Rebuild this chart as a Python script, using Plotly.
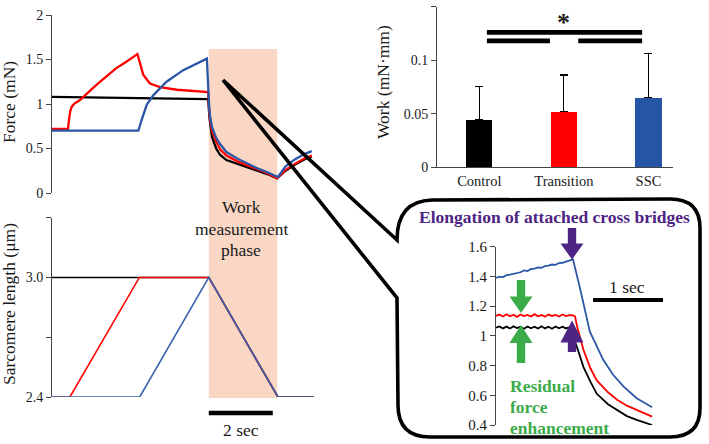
import plotly.graph_objects as go

W, H = 709, 444
FONT = "Liberation Serif, Times New Roman, serif"
INK = "#1a1a1a"
RED = "#ff0000"
BLUE = "#2b57a7"
BLACK = "#000000"
PURPLE = "#4e2484"
GREEN = "#3cab4a"
PEACH = "#f9d7c4"

# ---------------- Panel A: force traces (time in s, force in mN) ----------------
force_time_black = [0, 1, 2, 3, 4, 4.88, 4.92, 5.0, 5.13, 5.25, 5.45, 5.77, 6.1, 6.4, 6.75, 7.03, 7.3, 7.6, 7.9, 8.12]
force_black = [1.08, 1.075, 1.07, 1.065, 1.06, 1.055, 0.85, 0.63, 0.50, 0.43, 0.37, 0.33, 0.29, 0.26, 0.21, 0.165, 0.25, 0.32, 0.38, 0.41]

force_time_red = [0, 0.5, 0.53, 0.57, 0.62, 0.7, 0.875, 1.0, 1.25, 1.5, 1.75, 2.0, 2.3, 2.5, 2.67, 2.75, 2.85, 3.06, 3.375,
                  3.9, 4.5, 4.88, 4.92, 5.0, 5.13, 5.25, 5.45, 5.77, 6.1, 6.4, 6.75, 7.03, 7.3, 7.6, 7.9, 8.12]
force_red = [0.72, 0.72, 0.82, 0.92, 0.97, 1.005, 1.045, 1.09, 1.17, 1.25, 1.33, 1.40, 1.47, 1.52, 1.56, 1.46, 1.33, 1.23,
             1.19, 1.16, 1.145, 1.135, 0.88, 0.70, 0.58, 0.49, 0.42, 0.36, 0.31, 0.27, 0.22, 0.165, 0.26, 0.33, 0.39, 0.42]

force_time_blue = [0, 1, 2, 2.70, 2.8, 2.96, 3.17, 3.58, 4.1, 4.5, 4.84, 4.9, 4.93, 5.0, 5.13, 5.25, 5.45, 5.77, 6.1, 6.4,
                   6.75, 7.06, 7.3, 7.6, 7.9, 8.12]
force_blue = [0.70, 0.70, 0.70, 0.70, 0.82, 0.99, 1.10, 1.25, 1.38, 1.45, 1.51, 1.05, 0.88, 0.74, 0.62, 0.55, 0.46, 0.39,
              0.33, 0.28, 0.23, 0.18, 0.30, 0.38, 0.44, 0.47]

work_phase = [4.9, 7.04]  # s
scale_bar_main = [4.9, 6.9]  # 2 sec

# ---------------- Panel B: sarcomere length ----------------
len_time_black = [0, 4.9, 7.06, 8.18]
len_black = [3.0, 3.0, 2.4, 2.4]
len_time_red = [0, 0.56, 2.73, 4.9, 7.06, 8.18]
len_red = [2.4, 2.4, 3.0, 3.0, 2.4, 2.4]
len_time_blue = [0, 2.74, 4.9, 7.06, 8.18]
len_blue = [2.4, 2.4, 3.0, 2.4, 2.4]
len_tickvals = [2.4, 2.7, 3.0, 3.3]
len_ticktext = ["2.4", "", "3.0", ""]

# ---------------- Panel C: work bars ----------------
categories = ["Control", "Transition", "SSC"]
work_mean = [0.0442, 0.0518, 0.0650]
work_sd = [0.0311, 0.0344, 0.0415]
bar_colors = [BLACK, RED, "#2655a5"]
sig_long = [0.09, 1.925, 0.126]      # x0, x1, y
sig_short_a = [0.09, 0.835, 0.118]
sig_short_b = [1.17, 1.925, 0.118]
star_pos = [1.0, 0.1355]

# ---------------- Panel D: inset ----------------
ins_flat_t = [0.00, 0.05, 0.10, 0.15, 0.20, 0.25, 0.30, 0.35, 0.40, 0.45, 0.50, 0.55, 0.60, 0.65, 0.70, 0.75,
              0.80, 0.85, 0.90, 0.95, 1.00, 1.05]
ins_time_black = ins_flat_t + [1.08, 1.12, 1.16, 1.25, 1.35, 1.44, 1.6, 1.73, 1.87, 2.01, 2.12, 2.23]
ins_black = [1.055, 1.063, 1.050, 1.062, 1.049, 1.064, 1.052, 1.061, 1.048, 1.063, 1.051, 1.062, 1.049, 1.064, 1.050,
             1.061, 1.048, 1.063, 1.051, 1.062, 1.050, 1.058,
             1.04, 0.97, 0.92, 0.79, 0.69, 0.61, 0.54, 0.50, 0.46, 0.434, 0.415, 0.40]
ins_time_red = ins_flat_t + [1.10, 1.13, 1.16, 1.25, 1.35, 1.44, 1.6, 1.73, 1.87, 2.01, 2.12, 2.23]
ins_red = [1.135, 1.143, 1.130, 1.145, 1.132, 1.142, 1.128, 1.144, 1.133, 1.141, 1.130, 1.146, 1.132, 1.140, 1.129,
           1.143, 1.134, 1.141, 1.130, 1.144, 1.133, 1.140,
           1.138, 1.13, 1.06, 0.905, 0.78, 0.70, 0.62, 0.57, 0.53, 0.50, 0.475, 0.456]
ins_time_blue = ins_flat_t + [1.10, 1.20, 1.34, 1.53, 1.67, 1.82, 2.01, 2.12, 2.23]
ins_blue = [1.390, 1.398, 1.395, 1.408, 1.412, 1.418, 1.425, 1.428, 1.440, 1.436, 1.450, 1.452, 1.460, 1.458, 1.470,
            1.472, 1.480, 1.478, 1.490, 1.492, 1.500, 1.505,
            1.515, 1.32, 1.03, 0.84, 0.74, 0.66, 0.58, 0.55, 0.52]
ins_scale_bar = [1.386, 2.386]  # 1 sec


def px(x, y):
    return x / W, 1 - y / H


def dom_x(a, b):
    return [a / W, b / W]


def dom_y(top, bottom):
    return [1 - bottom / H, 1 - top / H]


fig = go.Figure()

# Panel A traces
for t, v, c in [(force_time_black, force_black, BLACK), (force_time_red, force_red, RED),
                (force_time_blue, force_blue, BLUE)]:
    fig.add_trace(go.Scatter(x=t, y=v, mode="lines", line=dict(color=c, width=2.3), xaxis="x", yaxis="y",
                             showlegend=False, hoverinfo="skip"))
# Panel B traces
for t, v, c in [(len_time_black, len_black, BLACK), (len_time_red, len_red, RED),
                (len_time_blue, len_blue, "#3a63ae")]:
    fig.add_trace(go.Scatter(x=t, y=v, mode="lines", line=dict(color=c, width=1.6), xaxis="x2", yaxis="y2",
                             showlegend=False, hoverinfo="skip"))
# Panel C bars
fig.add_trace(go.Bar(x=[0, 1, 2], y=work_mean, marker=dict(color=bar_colors, line=dict(width=0)), width=0.31,
                     error_y=dict(type="data", array=work_sd, arrayminus=[0, 0, 0], symmetric=False,
                                  color=BLACK, thickness=1.2, width=4),
                     xaxis="x3", yaxis="y3", showlegend=False, hoverinfo="skip"))
# Panel D traces
for t, v, c in [(ins_time_black, ins_black, BLACK), (ins_time_red, ins_red, RED), (ins_time_blue, ins_blue, BLUE)]:
    fig.add_trace(go.Scatter(x=t, y=v, mode="lines", line=dict(color=c, width=1.8), xaxis="x4", yaxis="y4",
                             showlegend=False, hoverinfo="skip"))

tfont = dict(family=FONT, size=14, color=INK)
axis_common = dict(showgrid=False, zeroline=False, showline=True, linecolor="#444", linewidth=1,
                   ticks="outside", ticklen=5, tickcolor="#444", tickfont=tfont, automargin=False)

shapes = []
# work measurement phase shading
shapes.append(dict(type="rect", xref="x", yref="paper", x0=work_phase[0], x1=work_phase[1],
                   y0=1 - 398 / H, y1=1 - 49 / H, fillcolor=PEACH, line=dict(width=0), layer="below"))
# 2 sec scale bar
shapes.append(dict(type="line", xref="x", yref="paper", x0=scale_bar_main[0], x1=scale_bar_main[1],
                   y0=1 - 413 / H, y1=1 - 413 / H, line=dict(color=BLACK, width=4.5)))
# significance bars
for s in [sig_long, sig_short_a, sig_short_b]:
    shapes.append(dict(type="line", xref="x3", yref="y3", x0=s[0], x1=s[1], y0=s[2], y1=s[2],
                       line=dict(color=BLACK, width=4.8)))
# inset 1 sec scale bar
shapes.append(dict(type="line", xref="x4", yref="paper", x0=ins_scale_bar[0], x1=ins_scale_bar[1],
                   y0=1 - 300 / H, y1=1 - 300 / H, line=dict(color=BLACK, width=4)))


def path_from(cmds):
    out = []
    for c in cmds:
        op = c[0]
        if op == "Z":
            out.append("Z")
            continue
        coords = []
        for (x, y) in c[1:]:
            a, b = px(x, y)
            coords.append(f"{a:.5f},{b:.5f}")
        out.append(op + " " + " ".join(coords))
    return " ".join(out)


bubble = [("M", (223, 80)), ("L", (397, 240)), ("Q", (397, 201), (432, 200)), ("L", (670, 199)),
          ("Q", (700, 199), (700, 228)), ("L", (700, 408)), ("Q", (700, 437), (670, 437)),
          ("L", (430, 437)), ("Q", (398, 437), (398, 405)), ("L", (397, 298)), ("L", (223, 80))]
shapes.append(dict(type="path", xref="paper", yref="paper", path=path_from(bubble),
                   line=dict(color=BLACK, width=3.6), fillcolor="rgba(0,0,0,0)"))


def block_arrow(cx, y_tail, y_base, y_tip, sw, hw):
    return [("M", (cx - sw, y_tail)), ("L", (cx + sw, y_tail)), ("L", (cx + sw, y_base)), ("L", (cx + hw, y_base)),
            ("L", (cx, y_tip)), ("L", (cx - hw, y_base)), ("L", (cx - sw, y_base)), ("Z",)]


for cx, yt, yb, yp, col in [(521, 280, 296.5, 313, GREEN), (521, 363, 343, 325, GREEN),
                            (572, 228, 243.5, 259.5, PURPLE), (572, 352, 342.5, 320.5, PURPLE)]:
    shapes.append(dict(type="path", xref="paper", yref="paper", path=path_from(block_arrow(cx, yt, yb, yp, 4.2, 11.5)),
                       fillcolor=col, line=dict(width=0)))

annotations = []


def ann(text, x, y, size=17.5, color=INK, angle=0, xanchor="center"):
    a, b = px(x, y)
    annotations.append(dict(text=text, x=a, y=b, xref="paper", yref="paper", showarrow=False,
                            font=dict(family=FONT, size=size, color=color), textangle=angle,
                            xanchor=xanchor, yanchor="middle"))


ann("Force (mN)", 9, 102, angle=-90)
ann("Sarcomere length (μm)", 9, 304, angle=-90)
ann("Work (mN·mm)", 383, 82, angle=-90)
ann("Work", 241, 207)
ann("measurement", 241, 229)
ann("phase", 241, 250)
ann("2 sec", 241, 430)
ann("1 sec", 627, 287)
ann("<b>Elongation of attached cross bridges</b>", 554, 217, size=17.5, color=PURPLE)
ann("<b>Residual</b>", 508, 386, size=17.5, color=GREEN, xanchor="left")
ann("<b>force</b>", 508, 407, size=17.5, color=GREEN, xanchor="left")
ann("<b>enhancement</b>", 508, 428, size=17.5, color=GREEN, xanchor="left")
annotations.append(dict(text="<b>*</b>", x=star_pos[0], y=star_pos[1], xref="x3", yref="y3", showarrow=False,
                        font=dict(family=FONT, size=26, color=INK), xanchor="center", yanchor="middle"))

fig.update_layout(
    width=W, height=H, margin=dict(l=0, r=0, t=0, b=0, pad=0), autosize=False,
    paper_bgcolor="white", plot_bgcolor="rgba(0,0,0,0)",
    showlegend=False, bargap=0,
    xaxis=dict(domain=dom_x(52, 330), range=[0, 8.6875], visible=False, automargin=False),
    yaxis=dict(domain=dom_y(15, 193), range=[0, 2], tickvals=[0, 0.5, 1, 1.5, 2],
               ticktext=["0", "0.5", "1", "1.5", "2"], anchor="x", **axis_common),
    xaxis2=dict(domain=dom_x(52, 330), range=[0, 8.6875], visible=False, anchor="y2", automargin=False),
    yaxis2=dict(domain=dom_y(217.7, 397), range=[2.4, 3.3], tickvals=len_tickvals, ticktext=len_ticktext,
                anchor="x2", **axis_common),
    xaxis3=dict(domain=dom_x(437, 673), range=[-0.5, 2.29], tickvals=[0, 1, 2], ticktext=categories,
                showgrid=False, zeroline=False, showline=True, linecolor="#444", ticks="",
                tickfont=dict(family=FONT, size=14.5, color=INK), anchor="y3", automargin=False),
    yaxis3=dict(domain=dom_y(6.7, 167.3), range=[0, 0.15], tickvals=[0, 0.05, 0.1, 0.15],
                ticktext=["0", "0.05", "0.1", "0.15"], anchor="x3", **axis_common),
    xaxis4=dict(domain=dom_x(496, 690), range=[0, (690 - 496) / 70], visible=False, anchor="y4", automargin=False),
    yaxis4=dict(domain=dom_y(246.7, 425), range=[0.4, 1.6], tickvals=[0.4, 0.6, 0.8, 1.0, 1.2, 1.4, 1.6],
                ticktext=["0.4", "0.6", "0.8", "1", "1.2", "1.4", "1.6"], anchor="x4",
                **{**axis_common, "tickfont": dict(family=FONT, size=15, color=INK)}),
    shapes=shapes, annotations=annotations,
)

fig.write_html("out.html", config={"displayModeBar": False},
               post_script="document.body.style.margin='0';document.body.style.overflow='hidden';")
